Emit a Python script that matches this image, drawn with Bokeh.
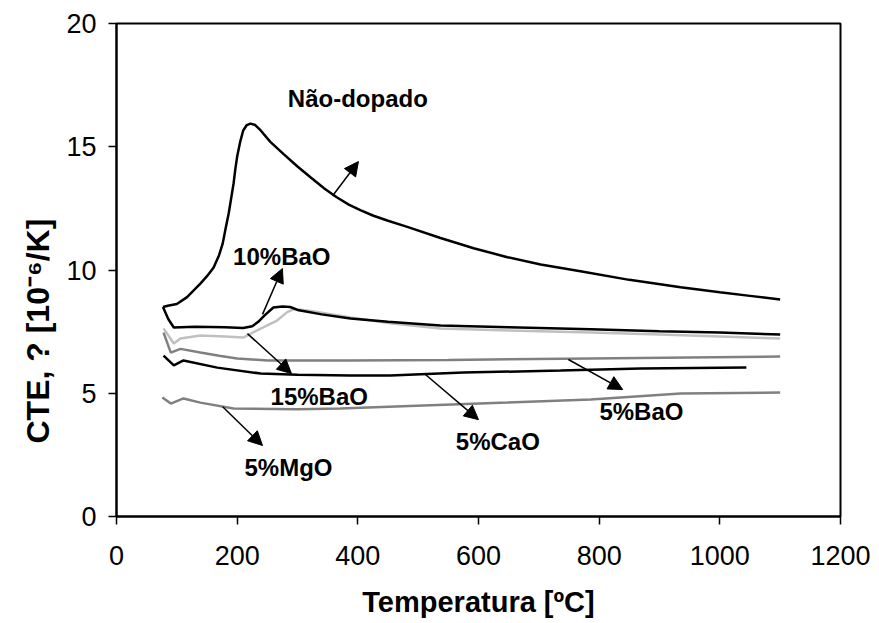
from bokeh.plotting import figure
from bokeh.models import Range1d, Arrow, NormalHead, Label, FixedTicker, Title
from bokeh.embed import file_html
from bokeh.resources import INLINE

# ---- data ----
nao_T = [77, 85, 100, 117, 139, 150, 161, 170, 176, 181, 186, 190, 194, 197, 200, 205, 210, 216, 222, 230, 239,
         255, 277, 300, 322, 345, 365, 385, 405, 426, 450, 482, 537, 592, 648, 703, 769, 850, 935, 1000, 1050, 1100]
nao_v = [8.5, 8.55, 8.62, 8.9, 9.45, 9.75, 10.1, 10.6, 11.07, 11.7, 12.3, 12.9, 13.5, 14.1, 14.6, 15.2, 15.66,
         15.88, 15.94, 15.88, 15.66, 15.2, 14.7, 14.2, 13.75, 13.3, 12.95, 12.65, 12.42, 12.2, 12.0, 11.75, 11.3,
         10.88, 10.52, 10.22, 9.95, 9.6, 9.3, 9.1, 8.95, 8.8]

bao10_T = [77, 86, 95, 130, 180, 210, 225, 235, 245, 260, 275, 288, 300, 340, 388, 450, 537, 650, 786, 900, 1000, 1100]
bao10_v = [8.5, 8.0, 7.67, 7.7, 7.68, 7.65, 7.72, 7.9, 8.15, 8.48, 8.52, 8.5, 8.38, 8.2, 8.03, 7.9, 7.75, 7.68,
           7.6, 7.52, 7.46, 7.38]

bao15_T = [78, 95, 106, 139, 180, 210, 233, 250, 266, 283, 295, 320, 388, 450, 537, 650, 786, 900, 1000, 1100]
bao15_v = [7.63, 7.02, 7.22, 7.34, 7.3, 7.26, 7.55, 7.75, 7.95, 8.29, 8.42, 8.35, 8.07, 7.85, 7.63, 7.55, 7.46,
           7.38, 7.3, 7.22]

bao5_T = [78, 90, 106, 139, 170, 200, 250, 388, 550, 786, 950, 1100]
bao5_v = [7.46, 6.65, 6.8, 6.65, 6.52, 6.41, 6.33, 6.33, 6.35, 6.41, 6.45, 6.49]

cao5_T = [78, 95, 111, 167, 239, 300, 388, 454, 575, 736, 869, 1044]
cao5_v = [6.53, 6.13, 6.33, 6.04, 5.8, 5.75, 5.72, 5.72, 5.84, 5.92, 6.0, 6.04]

mgo5_T = [76, 90, 111, 139, 194, 300, 371, 509, 648, 786, 935, 1100]
mgo5_v = [4.83, 4.58, 4.79, 4.62, 4.38, 4.35, 4.38, 4.5, 4.62, 4.75, 4.99, 5.03]

x_ticks = [0, 200, 400, 600, 800, 1000, 1200]
y_ticks = [0, 5, 10, 15, 20]

FONT = "Liberation Sans"

p = figure(width=879, height=623, output_backend="svg", toolbar_location=None,
           x_range=Range1d(0, 1200), y_range=Range1d(0, 20),
           min_border_left=116, min_border_right=39, min_border_top=23, min_border_bottom=107)
p.xgrid.visible = False
p.ygrid.visible = False
p.outline_line_color = "black"
p.outline_line_width = 2
p.background_fill_color = "white"
p.border_fill_color = "white"

for ax in (p.xaxis[0], p.yaxis[0]):
    ax.axis_line_width = 2
    ax.axis_line_color = "black"
    ax.major_tick_in = 0
    ax.major_tick_out = 8
    ax.major_tick_line_width = 1.5
    ax.minor_tick_line_color = None
    ax.major_label_text_font = FONT
    ax.major_label_text_font_size = "27px"
    ax.major_label_text_color = "black"
    ax.axis_label_text_font = FONT
    ax.axis_label_text_font_size = "29px"
    ax.axis_label_text_font_style = "bold"
    ax.axis_label_text_color = "black"

p.xaxis.ticker = FixedTicker(ticks=x_ticks)
p.yaxis.ticker = FixedTicker(ticks=y_ticks)
p.xaxis.axis_label = "Temperatura [ºC]"
p.xaxis.major_label_standoff = 21
p.yaxis.major_label_standoff = 12
p.xaxis.axis_label_standoff = 18

# y-axis title as a left-side title, placed below the frame centre as in the reference
p.add_layout(Title(text="CTE, ? [10⁻⁶/K]", align="left", offset=73, standoff=16,
                   text_font=FONT, text_font_size="32px", text_font_style="bold",
                   text_color="black"), "left")

LW = 2.5
p.line(nao_T, nao_v, line_color="black", line_width=LW)
p.line(bao15_T, bao15_v, line_color="#c0c0c0", line_width=LW)
p.line(bao10_T, bao10_v, line_color="black", line_width=LW)
p.line(bao5_T, bao5_v, line_color="#808080", line_width=LW)
p.line(cao5_T, cao5_v, line_color="black", line_width=LW)
p.line(mgo5_T, mgo5_v, line_color="#808080", line_width=LW)

annotations = [
    # text, label x, label y, arrow tail (x, y), arrow head (x, y)
    ("Não-dopado", 400, 16.96, (358, 13.0), (401, 14.4)),
    ("10%BaO", 274, 10.55, (242, 8.2), (275, 10.06)),
    ("15%BaO", 336, 4.87, (217, 7.42), (290, 5.8)),
    ("5%MgO", 285, 1.99, (176, 4.45), (242, 2.88)),
    ("5%CaO", 632, 3.04, (512, 5.76), (600, 3.93)),
    ("5%BaO", 870, 4.26, (749, 6.37), (839, 5.15)),
]
for text, lx, ly, (x0, y0), (x1, y1) in annotations:
    p.add_layout(Arrow(end=NormalHead(size=14, fill_color="black", line_color="black"),
                       x_start=x0, y_start=y0, x_end=x1, y_end=y1,
                       line_color="black", line_width=1.5))
    p.add_layout(Label(x=lx, y=ly, text=text, text_align="center", text_baseline="middle",
                       text_font=FONT, text_font_size="24px", text_font_style="bold",
                       text_color="black"))

open("out.html", "w").write(file_html(p, INLINE))
